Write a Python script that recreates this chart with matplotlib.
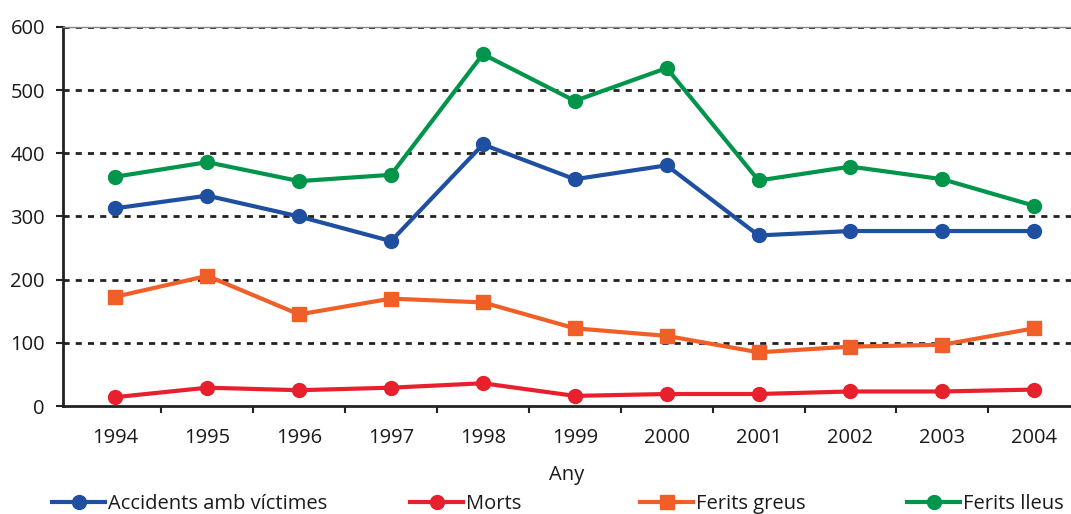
import matplotlib
matplotlib.use("Agg")
import matplotlib.pyplot as plt

years = ["1994", "1995", "1996", "1997", "1998", "1999", "2000", "2001", "2002", "2003", "2004"]
accidents = [313, 333, 300, 261, 414, 359, 381, 270, 277, 277, 277]
morts = [14, 29, 25, 29, 36, 16, 19, 19, 23, 23, 26]
ferits_greus = [173, 206, 145, 170, 164, 123, 111, 85, 94, 97, 123]
ferits_lleus = [363, 386, 356, 366, 557, 483, 535, 357, 379, 359, 317]
y_ticks = [0, 100, 200, 300, 400, 500, 600]

series_labels = ["Accidents amb víctimes", "Morts", "Ferits greus", "Ferits lleus"]
colors = ["#1E4FA1", "#E8202E", "#F15F28", "#00954B"]
markers = ["o", "o", "s", "o"]

plt.rcParams['font.family'] = ['Open Sans', 'DejaVu Sans']
FS = 14.5
TXT = "#1a1a1a"

fig = plt.figure(figsize=(10.71, 5.14), dpi=100)
ax = fig.add_axes([63/1071, 1 - 406/514, 1 - 63/1071, (406 - 27)/514])

x = list(range(len(years)))
lines = []
for vals, lab, c, m in zip([accidents, morts, ferits_greus, ferits_lleus], series_labels, colors, markers):
    ln, = ax.plot(x, vals, color=c, marker=m, markersize=10, linewidth=3, label=lab, zorder=3)
    lines.append(ln)

ax.set_xlim(-0.57, 10.4)
ax.set_ylim(0, 600)
ax.set_yticks(y_ticks)
ax.set_yticklabels([str(v) for v in y_ticks])
for v in y_ticks[1:]:
    ax.axhline(v, color="#222222", linestyle=(0, (2.2, 2.2)), linewidth=2, zorder=1)

ax.set_xticks(x)
ax.set_xticklabels(years)
ax.set_xticks([i + 0.5 for i in range(len(years) - 1)], minor=True)
ax.tick_params(axis='x', which='major', length=0, pad=16, labelsize=FS, labelcolor=TXT)
ax.tick_params(axis='x', which='minor', length=5, width=1.5, direction='out', color="#222222")
ax.tick_params(axis='y', which='major', length=5, width=1.5, pad=8, labelsize=FS,
               color="#222222", labelcolor=TXT)

ax.spines["right"].set_visible(False)
ax.spines["top"].set_color("#888888")
ax.spines["top"].set_linewidth(1)
for s in ["left", "bottom"]:
    ax.spines[s].set_linewidth(2)
    ax.spines[s].set_color("#222222")

ax.set_xlabel("Any", fontsize=FS, color=TXT, labelpad=12)

leg_x = [52/1071, 410/1071, 640/1071, 907/1071]
for ln, lx in zip(lines, leg_x):
    leg = fig.legend(handles=[ln], labels=[ln.get_label()], loc="center left",
                     bbox_to_anchor=(lx, 1 - 504/514), frameon=False, fontsize=FS,
                     handlelength=2.65, handletextpad=0.15, borderpad=0, borderaxespad=0)
    for t in leg.get_texts():
        t.set_color(TXT)

fig.savefig("out.png", dpi=100)
